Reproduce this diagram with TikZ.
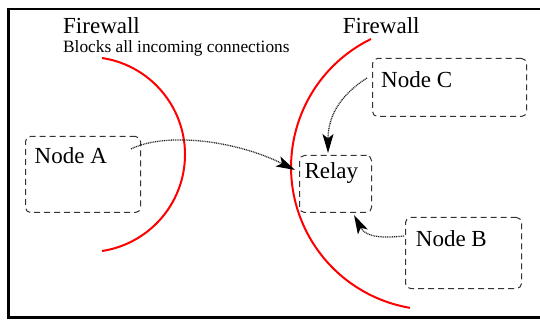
\documentclass[tikz,border=0pt]{standalone}
\usepackage{fontspec}
\setmainfont{Liberation Serif}
\usetikzlibrary{arrows.meta,calc}
\tikzset{
 box/.style={draw=black!80, line width=1pt, dash pattern=on 6pt off 4pt, rounded corners=5pt, anchor=north west, inner sep=0pt},
 lbl/.style={inner sep=0pt, anchor=base west, font=\fontsize{23}{27}\selectfont},
 small/.style={inner sep=0pt, anchor=base west, font=\fontsize{17.3}{20}\selectfont},
 fw/.style={red, line width=2pt},
 conn/.style={line width=1.3pt, black!85, dash pattern=on 1pt off 0.8pt, -{Stealth[black, length=19pt,width=11pt,inset=4.5pt]}},
}
\begin{document}
\begin{tikzpicture}[x=1pt,y=-1pt]
\useasboundingbox (0,0) rectangle (540,320);
\draw[line width=2.7pt] (540,9) -- (8.7,9) -- (8.7,317.5) -- (540,317.5);
% firewalls
\draw[fw] (102,58) arc[start angle=81.4, end angle=-81.4, radius=97.6pt];
\draw[fw] (371,39) arc[start angle=116.1, end angle=260.4, radius=142.7pt];
\node[lbl] (fwl) at (63,34) {Firewall};
\node[small] (fwlsub) at (63,52.3) {Blocks all incoming connections};
\node[lbl] (fwr) at (342.7,34) {Firewall};
% boxes
\node[box, minimum width=115pt, minimum height=76pt] (A) at (25,136) {};
\node[box, minimum width=154pt, minimum height=58pt] (C) at (372,58) {};
\node[box, minimum width=72pt, minimum height=57pt] (Relay) at (299,155) {};
\node[box, minimum width=116pt, minimum height=71pt] (B) at (405,217) {};
\node[lbl] (Alab) at ($(A.north west)+(9.5,28)$) {Node A};
\node[lbl] (Clab) at ($(C.north west)+(9,29.3)$) {Node C};
\node[lbl] (Rlab) at ($(Relay.north west)+(5.3,24)$) {Relay};
\node[lbl] (Blab) at ($(B.north west)+(10.7,29)$) {Node B};
% connectors
\draw[conn] ($(A.north east)+(-10,13)$) .. controls (165,132) and (235,140) .. ($(Relay.north west)+(-4,15)$);
\draw[conn] ($(C.north west)+(-5,20)$) .. controls (345,92) and (328,112) .. ($(Relay.north west)+(29,-2)$);
\draw[conn] ($(B.north west)+(-1,19)$) .. controls (385,238) and (366,238) .. ($(Relay.south west)+(55,2)$);
\end{tikzpicture}
\end{document}
